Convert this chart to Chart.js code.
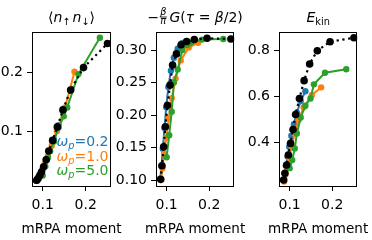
<!DOCTYPE html>
<html>
<head>
<meta charset="utf-8">
<script src="https://cdn.jsdelivr.net/npm/chart.js@4/dist/chart.umd.min.js"></script>
<style>
  html, body { margin: 0; padding: 0; background: #fff; }
  #wrap { position: relative; width: 372px; height: 240px; overflow: hidden; background: #fff; }
  canvas { position: absolute; top: 0; left: 0; }
</style>
</head>
<body>
<div id="wrap">
  <canvas id="c1" width="372" height="240"></canvas>
  <canvas id="c2" width="372" height="240"></canvas>
  <canvas id="c3" width="372" height="240"></canvas>
</div>
<script>
// shared x axis (mRPA moment)
var xTicks = [0.1, 0.2];
var xLabels = ['0.1', '0.2'];

// black reference points
var refX     = [0.086, 0.089, 0.093, 0.097, 0.102, 0.108, 0.114, 0.123, 0.134, 0.147, 0.165, 0.195, 0.251];
var refDocc  = [0.016, 0.019, 0.024, 0.030, 0.039, 0.051, 0.066, 0.084, 0.107, 0.136, 0.170, 0.208, 0.249];
var refG     = [0.101, 0.122, 0.151, 0.182, 0.215, 0.246, 0.277, 0.294, 0.308, 0.313, 0.316, 0.318, 0.317];
var refEkin  = [0.239, 0.268, 0.304, 0.347, 0.397, 0.457, 0.522, 0.591, 0.668, 0.740, 0.797, 0.836, 0.853];

// omega_p = 0.2
var w02X     = [0.085, 0.088, 0.091, 0.095, 0.099, 0.104, 0.110, 0.117, 0.126, 0.137];
var w02Docc  = [0.015, 0.018, 0.022, 0.027, 0.033, 0.041, 0.052, 0.066, 0.085, 0.110];
var w02G     = [0.102, 0.122, 0.148, 0.180, 0.212, 0.243, 0.268, 0.288, 0.302, 0.311];
var w02Ekin  = [0.240, 0.268, 0.300, 0.340, 0.382, 0.430, 0.480, 0.530, 0.580, 0.622];

// omega_p = 1.0
var w10X     = [0.087, 0.090, 0.094, 0.099, 0.105, 0.112, 0.121, 0.133, 0.152, 0.174];
var w10Docc  = [0.016, 0.020, 0.026, 0.034, 0.044, 0.057, 0.075, 0.100, 0.140, 0.201];
var w10G     = [0.100, 0.118, 0.140, 0.165, 0.195, 0.226, 0.256, 0.284, 0.304, 0.311];
var w10Ekin  = [0.232, 0.262, 0.295, 0.335, 0.385, 0.440, 0.498, 0.553, 0.605, 0.639];

// omega_p = 5.0
var w50X     = [0.100, 0.106, 0.112, 0.117, 0.126, 0.137, 0.149, 0.157, 0.183, 0.233];
var w50Docc  = [0.024, 0.040, 0.055, 0.066, 0.082, 0.106, 0.125, 0.140, 0.197, 0.259];
var w50G     = [0.135, 0.169, 0.205, 0.250, 0.270, 0.300, 0.308, 0.311, 0.316, 0.317];
var w50Ekin  = [0.290, 0.325, 0.375, 0.440, 0.509, 0.560, 0.591, 0.652, 0.702, 0.717];

var omegaLabels = ['0.2', '1.0', '5.0'];
var colors = ['#1f77b4', '#ff7f0e', '#2ca02c'];

// y ticks per panel
var yTicks1 = [0.1, 0.2];                     var yLabels1 = ['0.1', '0.2'];
var yTicks2 = [0.10, 0.15, 0.20, 0.25, 0.30]; var yLabels2 = ['0.10', '0.15', '0.20', '0.25', '0.30'];
var yTicks3 = [0.4, 0.6, 0.8];                var yLabels3 = ['0.4', '0.6', '0.8'];

var FAMILY = '"DejaVu Sans", sans-serif';
Chart.defaults.font.family = FAMILY;
Chart.defaults.font.size = 14;
Chart.defaults.color = '#000';

function fnt(size, italic) {
    return (italic ? 'italic ' : '') + size + 'px ' + FAMILY;
}

// width of one text run (plain, sub/superscript or small fraction)
function runWidth(ctx, r, size) {
    if (r.frac) {
        ctx.font = fnt(size * 0.7, true);
        return Math.max(ctx.measureText(r.frac[0]).width, ctx.measureText(r.frac[1]).width) + 2 + (r.gap || 0);
    }
    ctx.font = fnt(size * (r.sz || 1), r.it);
    return ctx.measureText(r.t).width + (r.gap || 0);
}

function drawRuns(ctx, runs, x, y, size, color, align) {
    ctx.save();
    ctx.fillStyle = color;
    ctx.strokeStyle = color;
    ctx.textBaseline = 'alphabetic';
    ctx.textAlign = 'left';
    var widths = runs.map(function(r) { return runWidth(ctx, r, size); });
    var total = widths.reduce(function(a, b) { return a + b; }, 0);
    var cx = align === 'center' ? x - total / 2 : (align === 'right' ? x - total : x);
    runs.forEach(function(r, i) {
        var w = widths[i] - (r.gap || 0);
        if (r.frac) {
            ctx.font = fnt(size * 0.7, true);
            ctx.textAlign = 'center';
            ctx.fillText(r.frac[0], cx + w / 2, y - 7);
            ctx.fillText(r.frac[1], cx + w / 2, y + 1.5);
            ctx.textAlign = 'left';
            ctx.lineWidth = 0.8;
            ctx.beginPath();
            ctx.moveTo(cx + 0.5, y - 5);
            ctx.lineTo(cx + w - 0.5, y - 5);
            ctx.stroke();
        } else {
            ctx.font = fnt(size * (r.sz || 1), r.it);
            ctx.fillText(r.t, cx, y + (r.dy || 0));
        }
        cx += widths[i];
    });
    ctx.restore();
}

var titles = [
    [{t: '\u27E8'}, {t: 'n', it: true}, {t: '\u2191', sz: 0.7, dy: 3, gap: 2}, {t: 'n', it: true}, {t: '\u2193', sz: 0.7, dy: 3}, {t: '\u27E9'}],
    [{t: '\u2212'}, {frac: ['\u03B2', '\u03C0'], gap: 2}, {t: 'G', it: true}, {t: '('}, {t: '\u03C4', it: true}, {t: ' = '}, {t: '\u03B2', it: true}, {t: '/2)'}],
    [{t: 'E', it: true}, {t: 'kin', sz: 0.7, dy: 3}]
];

// frame, title, x label (and legend on the first panel)
function panelText(idx) {
    return {
        id: 'panelText' + idx,
        afterDraw: function(chart) {
            var ctx = chart.ctx, a = chart.chartArea;
            ctx.save();
            ctx.strokeStyle = '#000';
            ctx.lineWidth = 1;
            ctx.strokeRect(Math.round(a.left) + 0.5, Math.round(a.top) + 0.5,
                Math.round(a.right - a.left) - 1, Math.round(a.bottom - a.top));
            ctx.restore();
            var cx = (a.left + a.right) / 2;
            drawRuns(ctx, titles[idx], cx, 22, 14, '#000', 'center');
            drawRuns(ctx, [{t: 'mRPA moment'}], cx, 233, 13.5, '#000', 'center');
            if (idx === 0) {
                omegaLabels.forEach(function(w, i) {
                    drawRuns(ctx, [{t: '\u03C9', it: true}, {t: 'p', it: true, sz: 0.7, dy: 3}, {t: '=' + w}],
                        a.right - 2.5, 146 + i * 14.7, 14, colors[i], 'right');
                });
            }
        }
    };
}

function series(xs, ys, color, order, ref) {
    return {
        data: xs.map(function(x, i) { return {x: x, y: ys[i]}; }),
        borderColor: color,
        backgroundColor: color,
        borderWidth: ref ? 2.2 : 2,
        borderDash: ref ? [2.2, 3.6] : [],
        pointRadius: ref ? 3.8 : 3.2,
        pointBorderWidth: 0,
        showLine: true,
        order: order
    };
}

function makePanel(id, idx, ys, yMin, yMax, yTicks, yLabels, padLeft, axisW, padRight) {
    var tickSet = function(values, labels) {
        return function(scale) {
            scale.ticks = values.map(function(v) { return {value: v, label: labels[values.indexOf(v)]}; });
        };
    };
    return new Chart(document.getElementById(id), {
        type: 'scatter',
        data: {
            datasets: [
                series(w02X, ys[0], colors[0], 3, false),
                series(w10X, ys[1], colors[1], 2, false),
                series(w50X, ys[2], colors[2], 1, false),
                series(refX, ys[3], '#000', 0, true)
            ]
        },
        options: {
            responsive: false,
            animation: false,
            layout: {padding: {top: 32, right: padRight, left: padLeft, bottom: 0}},
            plugins: {legend: {display: false}, tooltip: {enabled: false}},
            scales: {
                x: {
                    type: 'linear', min: 0.075, max: 0.259,
                    afterBuildTicks: tickSet(xTicks, xLabels),
                    afterFit: function(s) { s.height = 54; },
                    border: {display: false},
                    grid: {drawOnChartArea: false, color: '#000', tickLength: 5, lineWidth: 1},
                    ticks: {padding: 5.5, maxRotation: 0, autoSkip: false,
                        callback: function(v) { return xLabels[xTicks.indexOf(v)]; }}
                },
                y: {
                    type: 'linear', min: yMin, max: yMax,
                    afterBuildTicks: tickSet(yTicks, yLabels),
                    afterFit: function(s) { s.width = axisW; },
                    border: {display: false},
                    grid: {drawOnChartArea: false, color: '#000', tickLength: 5, lineWidth: 1},
                    ticks: {padding: 4, autoSkip: false,
                        callback: function(v) { return yLabels[yTicks.indexOf(v)]; }}
                }
            }
        },
        plugins: [panelText(idx)]
    });
}

makePanel('c1', 0, [w02Docc, w10Docc, w50Docc, refDocc], 0.0063, 0.2687, yTicks1, yLabels1, 0, 32, 261);
makePanel('c2', 1, [w02G, w10G, w50G, refG], 0.0908, 0.3277, yTicks2, yLabels2, 112, 44, 137.7);
makePanel('c3', 2, [w02Ekin, w10Ekin, w50Ekin, refEkin], 0.213, 0.878, yTicks3, yLabels3, 236, 43, 14.7);
</script>
</body>
</html>
